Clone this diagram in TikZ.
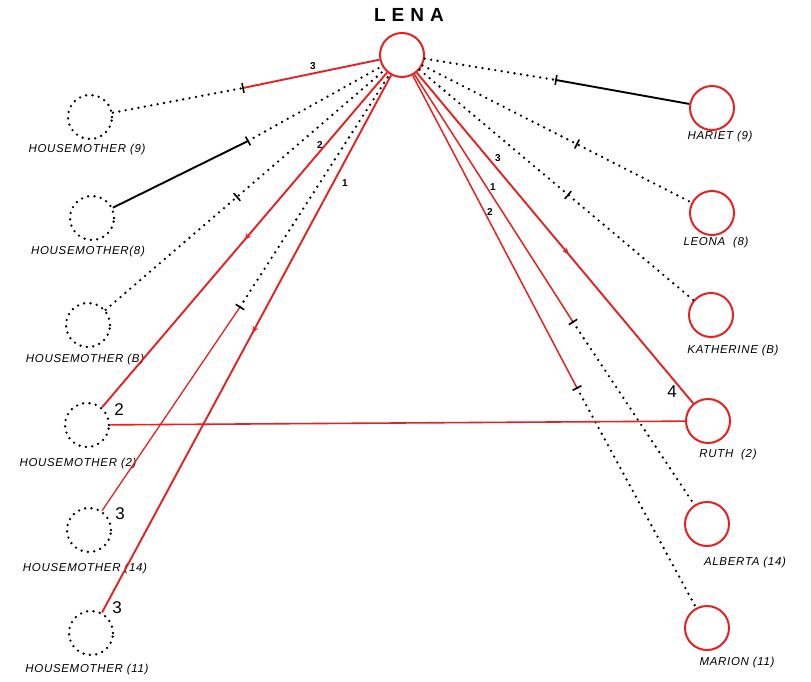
\documentclass[tikz,border=0pt]{standalone}
\usepackage{fontspec}
\setmainfont{Liberation Sans}
\usetikzlibrary{arrows.meta,decorations.markings,calc}
\definecolor{lred}{RGB}{228,34,34}
\tikzset{
 person/.style={circle, minimum size=44pt, inner sep=0pt},
 hm/.style={person, draw=black, line width=2.6pt, dash pattern=on 0pt off 6.4pt, line cap=round},
 girl/.style={person, draw=lred, line width=2pt},
 redline/.style={draw=lred, line width=1.9pt},
 thinred/.style={draw=lred, line width=1.3pt},
 blackline/.style={draw=black, line width=1.9pt},
 dotline/.style={draw=black, line width=2.6pt, dash pattern=on 0pt off 6.5pt, line cap=round},
 tickmark/.style={draw=black, line width=1.6pt},
 lbl/.style={font=\itshape\fontsize{11.5}{11.5}\selectfont\addfontfeature{LetterSpace=6}},
 num/.style={font=\bfseries\fontsize{10}{10}\selectfont},
 bignum/.style={font=\fontsize{17}{17}\selectfont},
 midarrow/.style={postaction={decorate}, decoration={markings, mark=at position #1 with {\arrow[lred]{Stealth[length=7pt,width=6pt]}}}},
}
\begin{document}
\begin{tikzpicture}[x=1pt,y=-1pt]
\useasboundingbox (0,0) rectangle (811,682);
% central node
\node[girl] (lena) at (402,55) {};
\node[font=\bfseries\fontsize{19}{19}\selectfont] (lenalbl) at (409,15) {L\hspace{6pt}E\hspace{6pt}N\hspace{6pt}A};
% housemothers
\node[hm] (hm9) at (90,117) {};
\node[hm] (hm8) at (92,218) {};
\node[hm] (hmB) at (88,325) {};
\node[hm] (hm2) at (87,425) {};
\node[hm] (hm14) at (89,530) {};
\node[hm] (hm11) at (91,633) {};
\node[lbl] (l9) at (87,150) {HOUSEMOTHER (9)};
\node[lbl] (l8) at (88,252) {HOUSEMOTHER(8)};
\node[lbl] (lB) at (85,360) {HOUSEMOTHER (B)};
\node[lbl] (l2) at (78,464) {HOUSEMOTHER (2)};
\node[lbl] (l14) at (85,569) {HOUSEMOTHER (14)};
\node[lbl] (l11) at (87,670) {HOUSEMOTHER (11)};
% girls
\node[girl] (hariet) at (712,108) {};
\node[girl] (leona) at (712,213) {};
\node[girl] (kath) at (711,315) {};
\node[girl] (ruth) at (708,421) {};
\node[girl] (alberta) at (707,524) {};
\node[girl] (marion) at (707,628) {};
\node[lbl] (lh) at (720,137) {HARIET (9)};
\node[lbl] (lle) at (716,243) {LEONA\ \ (8)};
\node[lbl] (lk) at (733,351) {KATHERINE (B)};
\node[lbl] (lr) at (728,455) {RUTH\ \ (2)};
\node[lbl] (la) at (745,563) {ALBERTA (14)};
\node[lbl] (lm) at (737,663) {MARION (11)};
% tick coordinates
\coordinate (t9) at (243,88);
\coordinate (t8) at (248,141);
\coordinate (tB) at (237,197);
\coordinate (t14) at (240,307);
\coordinate (th) at (556,80);
\coordinate (tl) at (577,144);
\coordinate (tk) at (568,195);
\coordinate (ta) at (573,322);
\coordinate (tm) at (577,388);
% left connectors
\draw[dotline] (hm9) -- (t9);
\draw[redline] (t9) -- (lena);
\draw[blackline] (hm8) -- (t8);
\draw[dotline] (t8) -- (lena);
\draw[dotline] (hmB) -- (lena);
\draw[redline, midarrow=0.5] (lena) -- (hm2);
\draw[thinred] (hm14) -- (t14);
\draw[dotline] (t14) -- (lena);
\draw[redline, midarrow=0.48] (lena) -- (hm11);
% right connectors
\draw[dotline] (lena) -- (th);
\draw[blackline] (th) -- (hariet);
\draw[dotline] (lena) -- (leona);
\draw[dotline] (lena) -- (kath);
\draw[redline, midarrow=0.55] (lena) -- (ruth);
\draw[redline, line width=1.5pt] (lena) -- (ta);
\draw[dotline] (ta) -- (alberta);
\draw[redline, line width=1.5pt] (lena) -- (tm);
\draw[dotline] (tm) -- (marion);
% horizontal
\draw[redline, line width=1.6pt] (hm2) -- (ruth);
% ticks
\foreach \t in {t9,t8,tB,t14,th,tl,tk,ta,tm}{
  \draw[tickmark] ($(\t)!5pt!90:(lena)$) -- ($(\t)!5pt!-90:(lena)$);
}
% small numbers
\node[num] (n1) at (313,66) {3};
\node[num] (n2) at (320,145) {2};
\node[num] (n3) at (345,183) {1};
\node[num] (n4) at (498,158) {3};
\node[num] (n5) at (493,187) {1};
\node[num] (n6) at (490,212) {2};
% big numbers
\node[bignum] (b1) at (119,410) {2};
\node[bignum] (b2) at (120,514) {3};
\node[bignum] (b3) at (117,608) {3};
\node[bignum] (b4) at (672,392) {4};
\end{tikzpicture}
\end{document}
